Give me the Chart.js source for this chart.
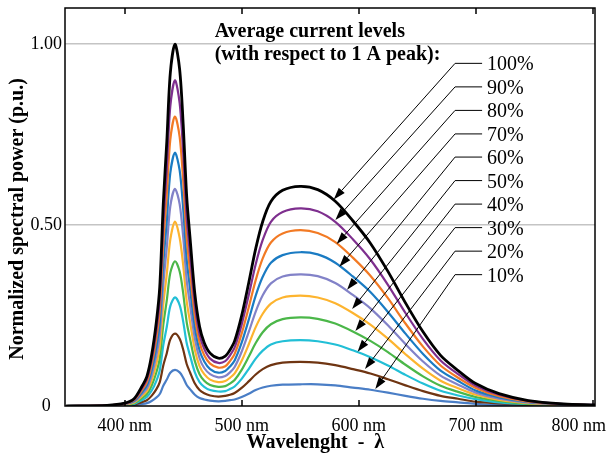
<!DOCTYPE html>
<html>
<head>
<meta charset="utf-8">
<title>Normalized spectral power vs wavelength</title>
<script src="https://cdn.jsdelivr.net/npm/chart.js@4.4.1/dist/chart.umd.min.js"></script>
<style>
  html, body { margin: 0; padding: 0; background: #fff; }
  #wrap { width: 610px; height: 457px; }
</style>
</head>
<body>
<div id="wrap"><canvas id="spectrumChart" width="610" height="457"></canvas></div>
<script>
// sample wavelengths (nm), shared by every curve
const wavelengths = [350, 385, 400, 408, 414, 419, 423, 427, 430, 433, 436, 439, 443, 447, 450, 453, 456,
  460, 464, 468, 473, 480, 486, 490, 494,
  500, 506, 512, 518, 525, 535, 550, 565, 580, 595, 610, 625, 640, 655, 670, 685, 700, 720, 745, 775, 802];

// normalized spectral power, one array per current level
const level100 = [0, 0.002, 0.008, 0.02, 0.05, 0.082, 0.14, 0.23, 0.33, 0.56, 0.73, 0.92, 1.0, 0.93, 0.78, 0.58, 0.46,
  0.31, 0.22, 0.175, 0.146, 0.132, 0.138, 0.155, 0.18,
  0.25, 0.34, 0.435, 0.51, 0.565, 0.596, 0.607, 0.598, 0.566, 0.512, 0.45, 0.372, 0.285, 0.205, 0.14, 0.098, 0.062, 0.034, 0.015, 0.006, 0.003];
const level90 = [0, 0.002, 0.007, 0.018, 0.045, 0.074, 0.126, 0.207, 0.297, 0.504, 0.657, 0.828, 0.9, 0.837, 0.702, 0.522, 0.414,
  0.279, 0.198, 0.158, 0.131, 0.119, 0.124, 0.14, 0.162,
  0.225, 0.306, 0.392, 0.459, 0.509, 0.536, 0.546, 0.538, 0.509, 0.461, 0.405, 0.335, 0.257, 0.185, 0.126, 0.088, 0.056, 0.031, 0.014, 0.005, 0.003];
const level80 = [0, 0.002, 0.006, 0.016, 0.04, 0.066, 0.112, 0.184, 0.264, 0.448, 0.584, 0.736, 0.8, 0.744, 0.624, 0.464, 0.368,
  0.248, 0.176, 0.14, 0.117, 0.106, 0.11, 0.124, 0.144,
  0.2, 0.272, 0.348, 0.408, 0.452, 0.477, 0.486, 0.478, 0.453, 0.41, 0.36, 0.298, 0.228, 0.164, 0.112, 0.078, 0.05, 0.027, 0.012, 0.005, 0.002];
const level70 = [0, 0.001, 0.006, 0.014, 0.035, 0.057, 0.098, 0.161, 0.231, 0.392, 0.511, 0.644, 0.7, 0.651, 0.546, 0.406, 0.322,
  0.217, 0.154, 0.123, 0.102, 0.092, 0.097, 0.109, 0.126,
  0.175, 0.238, 0.305, 0.357, 0.396, 0.417, 0.425, 0.419, 0.396, 0.358, 0.315, 0.26, 0.2, 0.144, 0.098, 0.069, 0.043, 0.024, 0.011, 0.004, 0.002];
const level60 = [0, 0.001, 0.005, 0.012, 0.03, 0.049, 0.084, 0.138, 0.198, 0.336, 0.438, 0.552, 0.6, 0.558, 0.468, 0.348, 0.276,
  0.186, 0.132, 0.105, 0.088, 0.079, 0.083, 0.093, 0.108,
  0.15, 0.204, 0.261, 0.306, 0.339, 0.358, 0.364, 0.359, 0.34, 0.307, 0.27, 0.223, 0.171, 0.123, 0.084, 0.059, 0.037, 0.02, 0.009, 0.004, 0.002];
const level50 = [0, 0.001, 0.004, 0.01, 0.025, 0.041, 0.07, 0.115, 0.165, 0.28, 0.365, 0.46, 0.51, 0.465, 0.39, 0.29, 0.23,
  0.155, 0.11, 0.088, 0.073, 0.066, 0.069, 0.078, 0.09,
  0.125, 0.17, 0.218, 0.255, 0.283, 0.3, 0.305, 0.3, 0.284, 0.257, 0.225, 0.186, 0.143, 0.103, 0.07, 0.049, 0.031, 0.017, 0.008, 0.003, 0.002];
const level40 = [0, 0.001, 0.003, 0.008, 0.02, 0.033, 0.056, 0.092, 0.132, 0.224, 0.292, 0.368, 0.4, 0.372, 0.312, 0.232, 0.184,
  0.124, 0.088, 0.07, 0.058, 0.053, 0.055, 0.062, 0.072,
  0.1, 0.136, 0.174, 0.204, 0.226, 0.24, 0.245, 0.241, 0.228, 0.206, 0.18, 0.149, 0.114, 0.082, 0.056, 0.039, 0.025, 0.014, 0.006, 0.002, 0.001];
const level30 = [0, 0.001, 0.002, 0.006, 0.015, 0.025, 0.042, 0.069, 0.099, 0.168, 0.219, 0.276, 0.3, 0.279, 0.234, 0.174, 0.138,
  0.093, 0.066, 0.053, 0.044, 0.04, 0.041, 0.047, 0.054,
  0.075, 0.102, 0.131, 0.153, 0.17, 0.179, 0.182, 0.179, 0.17, 0.154, 0.135, 0.112, 0.086, 0.062, 0.042, 0.029, 0.019, 0.01, 0.005, 0.002, 0.001];
const level20 = [0, 0, 0.002, 0.004, 0.01, 0.016, 0.028, 0.046, 0.066, 0.112, 0.146, 0.184, 0.2, 0.186, 0.156, 0.116, 0.092,
  0.062, 0.044, 0.035, 0.029, 0.026, 0.028, 0.031, 0.036,
  0.05, 0.068, 0.087, 0.102, 0.113, 0.12, 0.122, 0.12, 0.113, 0.102, 0.09, 0.074, 0.057, 0.041, 0.028, 0.02, 0.012, 0.007, 0.003, 0.001, 0.001];
const level10 = [0, 0, 0.001, 0.002, 0.005, 0.008, 0.014, 0.023, 0.033, 0.056, 0.073, 0.092, 0.1, 0.093, 0.078, 0.058, 0.046,
  0.031, 0.022, 0.018, 0.015, 0.013, 0.014, 0.016, 0.018,
  0.025, 0.034, 0.044, 0.051, 0.056, 0.059, 0.06, 0.06, 0.057, 0.051, 0.045, 0.037, 0.028, 0.02, 0.014, 0.01, 0.006, 0.003, 0.002, 0.001, 0];

const levelLabels = ['100%', '90%', '80%', '70%', '60%', '50%', '40%', '30%', '20%', '10%'];

// where each arrow touches its curve (wavelength nm, power p.u.)
const arrowTipNm = [578.7, 580.1, 581.2, 583.5, 590.1, 594.4, 597.2, 599.1, 605.4, 614.2];
const arrowTipVal = [0.571, 0.514, 0.448, 0.385, 0.321, 0.268, 0.207, 0.150, 0.102, 0.047];

// axis ticks
const xTickValues = [400, 500, 600, 700, 800];
const yTickValues = [0, 0.5, 1.0];
const yTickLabels = ['0', '0.50', '1.00'];

const xTitle = 'Wavelenght  -  λ';
const yTitle = 'Normalized spectral power (p.u.)';
const headerLines = ['Average current levels', '(with respect to 1 A peak):'];

// ---- styling ----
const seriesColors = ['#000000', '#7e2f8e', '#f27a24', '#1a7bc3', '#8282c8', '#fdb42f', '#4bb749', '#22bfd6', '#6f3512', '#4a7ec6'];
const serif = '"Liberation Serif", "Times New Roman", serif';

// text / callout layout, in axis units
const callout = {
  headerNm: 476.9, headerVals: [1.019, 0.956],
  labelVals: [0.947, 0.882, 0.817, 0.752, 0.688, 0.623, 0.558, 0.493, 0.428, 0.363],
  elbowNm: 682.4, lineEndNm: 705.5, textNm: 709.7,
  xTitleNm: 563, yTitleVal: 0.517
};

Chart.defaults.font.family = serif;
Chart.defaults.color = '#000';

const allLevels = [level100, level90, level80, level70, level60, level50, level40, level30, level20, level10];

const datasets = allLevels.map((vals, i) => ({
  label: levelLabels[i],
  data: wavelengths.map((nm, j) => ({ x: nm, y: vals[j] })),
  borderColor: seriesColors[i],
  backgroundColor: seriesColors[i],
  borderWidth: i === 0 ? 2.8 : 2.2,
  pointRadius: 0,
  fill: false,
  tension: 0.3
}));

const whiteBg = {
  id: 'whiteBg',
  beforeDraw(chart) {
    const ctx = chart.ctx;
    ctx.save();
    ctx.fillStyle = '#fff';
    ctx.fillRect(0, 0, chart.width, chart.height);
    ctx.restore();
  }
};

// frame, inward ticks, x labels, axis titles and the arrow callouts
const calloutPlugin = {
  id: 'callouts',
  afterDatasetsDraw(chart) {
    const { ctx, chartArea: a, scales: { x, y } } = chart;
    ctx.save();

    ctx.strokeStyle = '#000';
    ctx.lineWidth = 1.5;
    ctx.strokeRect(a.left, a.top, a.right - a.left, a.bottom - a.top);

    ctx.beginPath();
    xTickValues.forEach(v => {
      const px = Math.round(x.getPixelForValue(v));
      ctx.moveTo(px, a.bottom);
      ctx.lineTo(px, a.bottom - 6);
      ctx.moveTo(px, a.top);
      ctx.lineTo(px, a.top + 6);
    });
    ctx.stroke();

    ctx.fillStyle = '#000';
    ctx.font = '18px ' + serif;
    ctx.textAlign = 'center';
    ctx.textBaseline = 'alphabetic';
    xTickValues.forEach(v => {
      const txt = v + ' nm';
      const w = ctx.measureText(txt).width;
      const px = Math.min(x.getPixelForValue(v), chart.width - w / 2 - 4);
      ctx.fillText(txt, px, a.bottom + 25);
    });

    // axis titles
    ctx.font = 'bold 20px ' + serif;
    ctx.fillText(xTitle, x.getPixelForValue(callout.xTitleNm), a.bottom + 42);
    ctx.save();
    ctx.translate(23, y.getPixelForValue(callout.yTitleVal));
    ctx.rotate(-Math.PI / 2);
    ctx.fillText(yTitle, 0, 0);
    ctx.restore();

    // header
    ctx.textAlign = 'left';
    headerLines.forEach((line, i) => {
      ctx.fillText(line, x.getPixelForValue(callout.headerNm), y.getPixelForValue(callout.headerVals[i]));
    });

    // level labels with arrows
    ctx.font = '20px ' + serif;
    ctx.lineWidth = 1;
    const ex = x.getPixelForValue(callout.elbowNm);
    const hx = x.getPixelForValue(callout.lineEndNm);
    const txp = x.getPixelForValue(callout.textNm);
    levelLabels.forEach((lab, i) => {
      const ly = y.getPixelForValue(callout.labelVals[i]);
      const tx = x.getPixelForValue(arrowTipNm[i]);
      const ty = y.getPixelForValue(arrowTipVal[i]);
      const ang = Math.atan2(ty - ly, tx - ex);
      const headLen = 12, headW = 4;
      const bx = tx - Math.cos(ang) * headLen;
      const by = ty - Math.sin(ang) * headLen;

      ctx.beginPath();
      ctx.moveTo(hx, ly);
      ctx.lineTo(ex, ly);
      ctx.lineTo(bx, by);
      ctx.stroke();

      ctx.beginPath();
      ctx.moveTo(tx, ty);
      ctx.lineTo(bx - Math.sin(ang) * headW, by + Math.cos(ang) * headW);
      ctx.lineTo(bx + Math.sin(ang) * headW, by - Math.cos(ang) * headW);
      ctx.closePath();
      ctx.fill();

      ctx.fillText(lab, txp, ly + 7);
    });

    ctx.restore();
  }
};

const ctx = document.getElementById('spectrumChart').getContext('2d');
const spectrumChart = new Chart(ctx, {
  type: 'line',
  data: { datasets: datasets },
  options: {
    responsive: false,
    animation: false,
    layout: { padding: { top: 8, right: 15, left: 0, bottom: 0 } },
    plugins: {
      legend: { display: false },
      tooltip: { enabled: false }
    },
    scales: {
      x: {
        type: 'linear',
        min: 349,
        max: 802,
        afterBuildTicks: scale => { scale.ticks = xTickValues.map(v => ({ value: v })); },
        afterFit: scale => { scale.height = 51; scale.paddingLeft = 0; scale.paddingRight = 0; },
        ticks: { display: false },
        grid: { display: false },
        border: { display: false }
      },
      y: {
        min: 0,
        max: 1.1,
        afterBuildTicks: scale => { scale.ticks = yTickValues.map(v => ({ value: v })); },
        afterFit: scale => { scale.width = 65; scale.paddingTop = 0; scale.paddingBottom = 0; },
        ticks: {
          font: { size: 18 },
          padding: 3,
          crossAlign: 'center',
          callback: (value) => yTickLabels[yTickValues.indexOf(value)]
        },
        grid: {
          drawTicks: false,
          lineWidth: 1.5,
          color: c => (c.tick && c.tick.value === 0) ? 'rgba(0,0,0,0)' : '#c4c4c4'
        },
        border: { display: false }
      }
    }
  },
  plugins: [whiteBg, calloutPlugin]
});
</script>
</body>
</html>
